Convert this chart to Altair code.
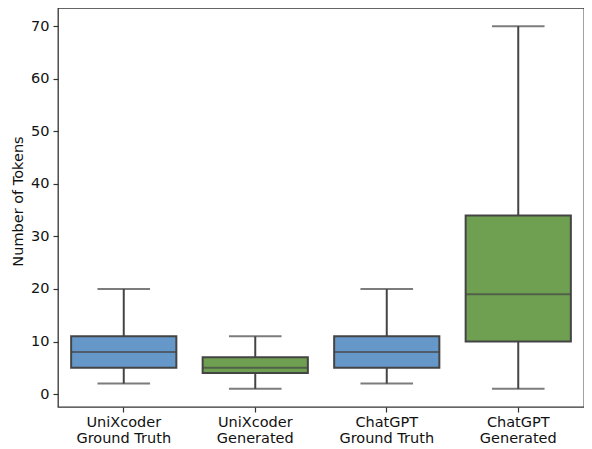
import altair as alt
import pandas as pd

categories = ["UniXcoder|Ground Truth", "UniXcoder|Generated", "ChatGPT|Ground Truth", "ChatGPT|Generated"]
kinds = ["Ground Truth", "Generated", "Ground Truth", "Generated"]
whisker_low = [2, 1, 2, 1]
q1 = [5, 4, 5, 10]
median = [8, 5, 8, 19]
q3 = [11, 7, 11, 34]
whisker_high = [20, 11, 20, 70]

df = pd.DataFrame({
    "cat": categories, "kind": kinds, "lo": whisker_low, "q1": q1,
    "med": median, "q3": q3, "hi": whisker_high,
})

LEFT = 50
W, H = 576 - LEFT, 399
step = W / 4
line_col = "#444444"
font = "DejaVu Sans"
fs = 14.5

x = alt.X("cat:N", sort=categories, title=None,
          scale=alt.Scale(paddingInner=0.2, paddingOuter=0.1),
          axis=alt.Axis(labelExpr="split(datum.value, '|')", labelAngle=0,
                        labelFontSize=fs, labelFont=font, labelColor="#111",
                        labelLineHeight=16.5, tickSize=5, tickColor="#333", tickWidth=1.2,
                        domain=False, labelPadding=3, grid=False))
yscale = alt.Scale(domain=[-2.45, 73.45], nice=False, zero=False)
y_axis = alt.Axis(values=[0, 10, 20, 30, 40, 50, 60, 70], title="Number of Tokens",
                  titleFont=font, titleFontSize=fs, titleFontWeight="normal",
                  titleColor="#111", titlePadding=5, titleY=193,
                  labelFontSize=fs, labelFont=font, labelColor="#111",
                  tickSize=5, tickColor="#333", tickWidth=1.2,
                  domain=False, grid=False, labelPadding=4)

color = alt.Color("kind:N", scale=alt.Scale(domain=["Ground Truth", "Generated"],
                                            range=["#6598c9", "#6fa051"]), legend=None)

base = alt.Chart(df)

whisk_lo = base.mark_rule(color=line_col, strokeWidth=2).encode(
    x=x, y=alt.Y("lo:Q", scale=yscale, axis=y_axis), y2="q1:Q")
whisk_hi = base.mark_rule(color=line_col, strokeWidth=2).encode(
    x=x, y=alt.Y("q3:Q", scale=yscale), y2="hi:Q")
box = base.mark_bar(stroke=line_col, strokeWidth=2, size=step * 0.8).encode(
    x=x, y=alt.Y("q1:Q", scale=yscale), y2="q3:Q", color=color)
cap_lo = base.mark_tick(color=line_col, thickness=2, size=step * 0.4, orient="horizontal").encode(
    x=x, y=alt.Y("lo:Q", scale=yscale))
cap_hi = base.mark_tick(color=line_col, thickness=2, size=step * 0.4, orient="horizontal").encode(
    x=x, y=alt.Y("hi:Q", scale=yscale))
med = base.mark_tick(color=line_col, thickness=2, size=step * 0.8, orient="horizontal").encode(
    x=x, y=alt.Y("med:Q", scale=yscale))

chart = alt.layer(whisk_lo, whisk_hi, box, cap_lo, cap_hi, med).properties(
    width=W, height=H,
    background="white",
    autosize=alt.AutoSizeParams(type="none"),
    padding={"left": LEFT, "top": 0, "right": 0, "bottom": 40},
).configure_view(stroke="#333333", strokeWidth=1.3)

chart.save("out.html", embed_options={"renderer": "svg", "actions": False})
